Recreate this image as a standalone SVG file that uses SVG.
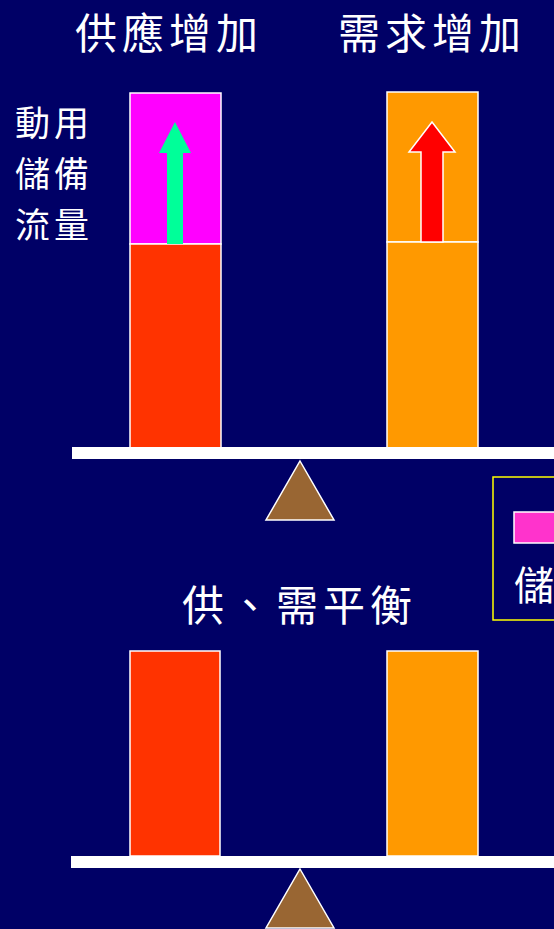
<svg xmlns="http://www.w3.org/2000/svg" width="554" height="929" viewBox="0 0 554 929">
<style>
.t{font-family:"Noto Sans CJK TC","Noto Sans CJK SC",sans-serif;fill:#ffffff}
.title{font-size:42px;letter-spacing:5px}
.side{font-size:35px;letter-spacing:4px}
.bar{stroke:#ffffff;stroke-width:1.5}
.beam{fill:#ffffff}
.fulcrum{fill:#996633;stroke:#ffffff;stroke-width:1.5}
</style>
<rect x="0" y="0" width="554" height="929" fill="#000066"/>
<g id="title-supply"><text class="t title" x="75" y="49">供應增加</text></g>
<g id="title-demand"><text class="t title" x="338" y="49">需求增加</text></g>
<g id="side-label">
<text class="t side" x="15" y="136">動用</text>
<text class="t side" x="15" y="187">儲備</text>
<text class="t side" x="15" y="238">流量</text>
</g>
<g id="supply-top">
<rect class="bar" x="130" y="93" width="91" height="151" fill="#ff00ff"/>
<rect class="bar" x="130" y="244" width="91" height="204" fill="#ff3300"/>
<polygon points="175,122 191,153 183,153 183,244 167,244 167,153 159,153" fill="#00ff99"/>
</g>
<g id="demand-top">
<rect class="bar" x="387" y="92" width="91" height="150" fill="#ff9900"/>
<rect class="bar" x="387" y="242" width="91" height="206" fill="#ff9900"/>
<polygon points="432,122 455,152 443,152 443,242 421,242 421,152 409,152" fill="#ff0000" stroke="#ffffff" stroke-width="1.5"/>
</g>
<g id="beam-top"><rect class="beam" x="72" y="447" width="482" height="12"/></g>
<g id="fulcrum-top"><polygon class="fulcrum" points="300,461 334,520 266,520"/></g>
<g id="legend">
<rect x="493" y="477" width="100" height="143" fill="none" stroke="#ffff00" stroke-width="1.5"/>
<rect x="514" y="512" width="45" height="31" fill="#ff33cc" stroke="#ffffff" stroke-width="1.5"/>
<text class="t" x="514" y="600" font-size="40">儲</text>
</g>
<g id="title-balance"><text class="t title" x="182" y="621">供、需平衡</text></g>
<g id="supply-bottom"><rect class="bar" x="130" y="651" width="90" height="205" fill="#ff3300"/></g>
<g id="demand-bottom"><rect class="bar" x="387" y="651" width="91" height="205" fill="#ff9900"/></g>
<g id="beam-bottom"><rect class="beam" x="71" y="856" width="483" height="12"/></g>
<g id="fulcrum-bottom"><polygon class="fulcrum" points="300,869 334,928 266,928"/></g>
<g id="connectors"></g>
</svg>
